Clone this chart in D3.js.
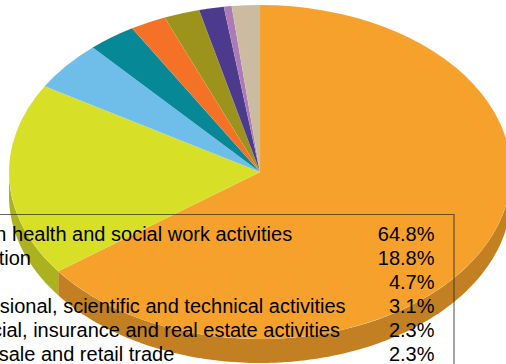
<!DOCTYPE html>
<html><head><meta charset="utf-8">
<script src="https://cdn.jsdelivr.net/npm/d3@7"></script>
<style>html,body{margin:0;padding:0;background:#fff;overflow:hidden}svg{display:block}</style>
</head><body><svg id="c" width="506" height="364"></svg>
<script>
const categories = ["Human health and social work activities","Education","","Professional, scientific and technical activities","Financial, insurance and real estate activities","Wholesale and retail trade"];
const legendValues = ["64.8%","18.8%","4.7%","3.1%","2.3%","2.3%"];
const sliceValues = [64.8,18.7,4.8,3.1,2.3,2.3,1.6,0.5,1.8];
const sliceColors = ["#F5A12B","#D7DF27","#6FBDE9","#068896","#F47125","#9C931C","#4C3A8D","#AC7BB4","#CBBBA0"];

const cx=260, cy=172, rx=251, ry=167, depth=24;
const svg=d3.select("#c");
const pie=d3.pie().sort(null)(sliceValues);
const px=a=>cx+rx*Math.sin(a), py=a=>cy-ry*Math.cos(a);

const side=d3.area().x(a=>px(a)).y0(a=>py(a)).y1(a=>py(a)+depth);
const walls=svg.append("g");
pie.forEach((d,i)=>{
  const s=Math.max(d.startAngle,Math.PI/2), e=Math.min(d.endAngle,Math.PI*1.5);
  if(e<=s) return;
  const n=Math.max(2,Math.ceil((e-s)*60));
  const as=d3.range(n+1).map(k=>s+(e-s)*k/n);
  walls.append("path").attr("d",side(as))
    .attr("fill",d3.color(sliceColors[i]).darker(0.65).formatHex());
});

const arc=d3.arc().innerRadius(0).outerRadius(rx);
svg.append("g").attr("transform",`translate(${cx},${cy}) scale(1,${ry/rx})`)
  .selectAll("path").data(pie).join("path")
  .attr("d",arc).attr("fill",(d,i)=>sliceColors[i])
  .attr("stroke","#fff").attr("stroke-opacity",0.12).attr("stroke-width",0.5);

const rowY=d3.scaleLinear().domain([0,5]).range([240.5,360.5]);
svg.append("path").attr("d","M-2,214.5H454V366").attr("fill","none").attr("stroke","#333").attr("stroke-opacity",.75).attr("stroke-width",1.2);
const fs=20;
const t=svg.append("g").attr("font-family","Liberation Sans, Arial, sans-serif").attr("font-size",fs).attr("fill","#000");
t.selectAll("text.l").data(categories).join("text").attr("class","l")
  .attr("x",-58).attr("y",(d,i)=>rowY(i)).text(d=>d);
t.selectAll("text.v").data(legendValues).join("text").attr("class","v")
  .attr("x",434.5).attr("y",(d,i)=>rowY(i)).attr("text-anchor","end").text(d=>d);
</script></body></html>
